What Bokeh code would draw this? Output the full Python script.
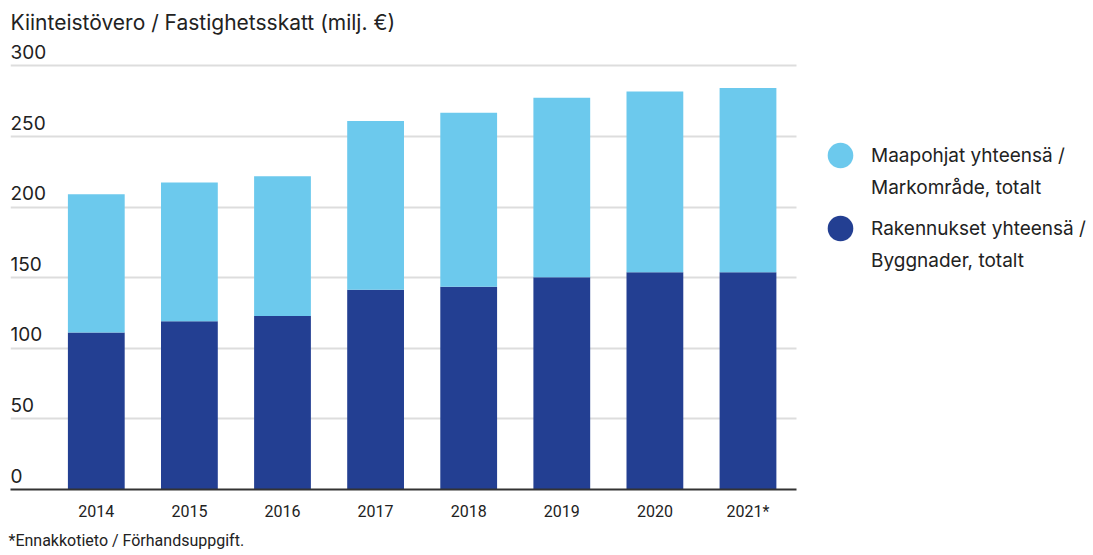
from bokeh.plotting import figure
from bokeh.models import Range1d, FixedTicker, ColumnDataSource, Legend, LegendItem, Title
from bokeh.core.properties import value
from bokeh.embed import file_html
from bokeh.resources import INLINE

years = ["2014", "2015", "2016", "2017", "2018", "2019", "2020", "2021*"]
rakennukset = [111.2, 119.2, 122.9, 141.5, 143.6, 150.4, 153.9, 153.9]
maapohjat = [98.0, 98.2, 99.0, 119.5, 123.2, 127.0, 128.0, 130.5]
y_ticks = [0, 50, 100, 150, 200, 250, 300]
y_tick_labels = ["0", "50", "100", "150", "200", "250", "300"]
legend_lines = [["Maapohjat yhteensä /", "Markområde, totalt"],
                ["Rakennukset yhteensä /", "Byggnader, totalt"]]

LIGHT = "#6CC9ED"
DARK = "#233F92"
TXT = "#222222"
FONT = "Inter"
SMALL = "Roboto"

X_START = -0.9216     # left edge of the plotting area (category units)
X_CHART_END = 7.521   # right end of grid lines / axis
X_END = 10.679        # frame extends over the legend area

xpos = list(range(len(years)))
src = ColumnDataSource(dict(x=xpos, rak=rakennukset, maa=maapohjat))

p = figure(width=1090, height=555, output_backend="svg", toolbar_location=None,
           x_range=Range1d(X_START, X_END), y_range=Range1d(0, 317.3),
           min_border_left=10, min_border_right=0, min_border_top=40, min_border_bottom=65)

p.outline_line_color = None

p.vbar_stack(["rak", "maa"], x="x", width=0.61, source=src,
             color=[DARK, LIGHT], line_color=None)

# grid
p.xgrid.visible = False
p.ygrid.ticker = FixedTicker(ticks=y_ticks)
p.ygrid.grid_line_color = "#DDDDDD"
p.ygrid.grid_line_width = 2
p.ygrid.cross_bounds = (X_START, X_CHART_END)

# y axis hidden, labels drawn above gridlines
p.yaxis.visible = False
p.text(x=[X_START] * len(y_ticks), y=y_ticks, text=y_tick_labels,
       text_font=value(FONT), text_font_size="19px", text_color=TXT,
       text_baseline="bottom", text_align="left", y_offset=-7)

# x axis
p.xaxis.ticker = FixedTicker(ticks=xpos)
p.xaxis.bounds = (X_START, X_CHART_END)
p.xaxis.major_label_overrides = {i: y for i, y in enumerate(years)}
p.xaxis.major_tick_line_color = None
p.xaxis.minor_tick_line_color = None
p.xaxis.axis_line_color = "#333333"
p.xaxis.axis_line_width = 2
p.xaxis.major_label_standoff = 6
p.xaxis.major_label_text_font = SMALL
p.xaxis.major_label_text_font_size = "16px"
p.xaxis.major_label_text_color = TXT

# title
p.title.text = "Kiinteistövero / Fastighetsskatt (milj. €)"
p.title.text_font = FONT
p.title.text_font_size = "21px"
p.title.text_font_style = "normal"
p.title.text_color = TXT
p.title.offset = 0
p.title.standoff = 14

# footnote
p.add_layout(Title(text="*Ennakkotieto / Förhandsuppgift.", text_font=SMALL,
                   text_font_size="16px", text_font_style="normal",
                   text_color=TXT, offset=-2, standoff=11), "below")

# legend (two legends, one per series; second line carries a transparent glyph)
def legend_glyph(color, alpha):
    return p.ellipse(x=[float("nan")], y=[float("nan")], width=26, height=26,
                     width_units="screen", height_units="screen",
                     fill_color=color, fill_alpha=alpha, line_color=None)

for lines, color, loc in [(legend_lines[0], LIGHT, (814, 286)),
                          (legend_lines[1], DARK, (814, 213))]:
    g1 = legend_glyph(color, 1.0)
    g2 = legend_glyph(color, 0.0)
    leg = Legend(items=[LegendItem(label=lines[0], renderers=[g1]),
                        LegendItem(label=lines[1], renderers=[g2])],
                 location=loc, border_line_color=None, background_fill_alpha=0,
                 padding=0, margin=0, spacing=-5, glyph_width=32, glyph_height=32,
                 label_standoff=15, label_text_font=FONT, label_text_font_size="19px",
                 label_text_color=TXT, label_height=32)
    p.add_layout(leg)

open("out.html", "w").write(file_html(p, INLINE))
